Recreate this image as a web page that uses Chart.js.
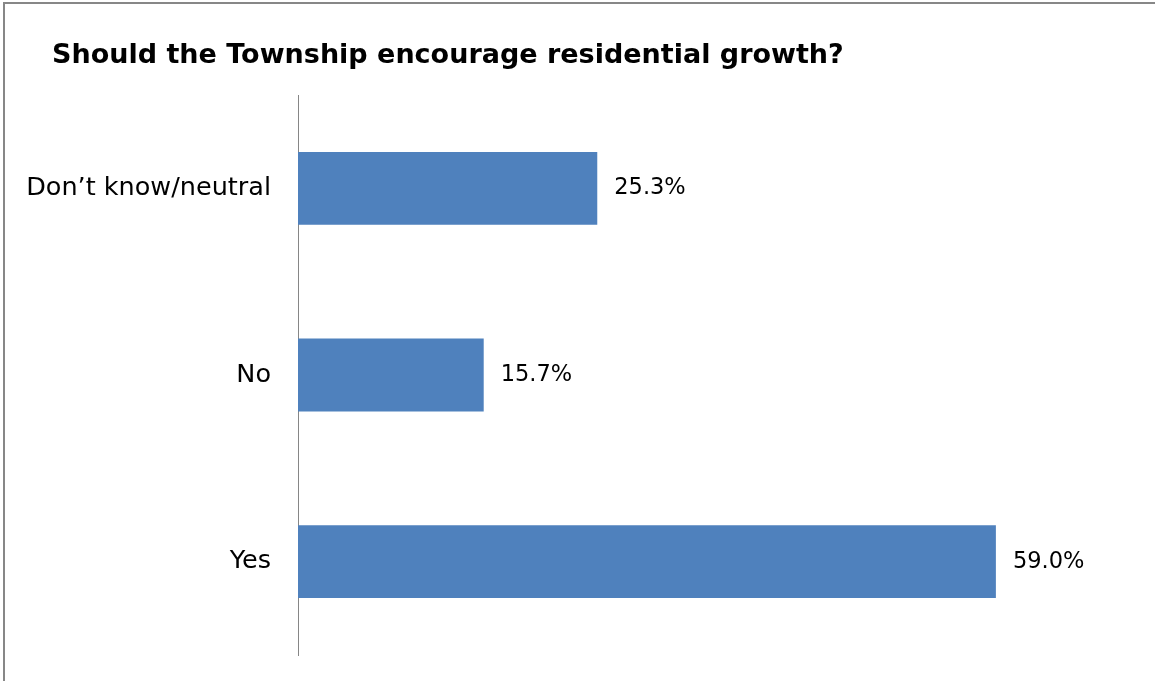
<!DOCTYPE html>
<html>
<head>
<meta charset="utf-8">
<script src="https://cdn.jsdelivr.net/npm/chart.js@4"></script>
<style>
html,body{margin:0;padding:0;background:#fff;}
#wrap{position:relative;width:1155px;height:681px;}
</style>
</head>
<body>
<div id="wrap"><canvas id="c" width="1155" height="681"></canvas></div>
<script>
const title = "Should the Township encourage residential growth?";
const categories = ["Don\u2019t know/neutral", "No", "Yes"];
const values = [25.3, 15.7, 59.0];
const valueLabels = ["25.3%", "15.7%", "59.0%"];

const FONT = "'DejaVu Sans', sans-serif";

const frame = {
  id: 'frame',
  beforeDraw(chart) {
    const ctx = chart.ctx;
    ctx.save();
    ctx.fillStyle = '#fff';
    ctx.fillRect(0, 0, chart.width, chart.height);
    ctx.strokeStyle = '#878787';
    ctx.lineWidth = 2;
    ctx.beginPath();
    ctx.moveTo(4, chart.height);
    ctx.lineTo(4, 3);
    ctx.lineTo(chart.width, 3);
    ctx.stroke();
    ctx.fillStyle = '#000';
    ctx.font = "bold 27px " + FONT;
    ctx.textBaseline = 'alphabetic';
    ctx.textAlign = 'left';
    ctx.fillText(title, 52, 63);
    ctx.restore();
  }
};

const valueLabelPlugin = {
  id: 'valueLabels',
  afterDatasetsDraw(chart) {
    const ctx = chart.ctx;
    const meta = chart.getDatasetMeta(0);
    ctx.save();
    ctx.fillStyle = '#000';
    ctx.font = "22.5px " + FONT;
    ctx.textBaseline = 'middle';
    ctx.textAlign = 'left';
    meta.data.forEach((bar, i) => {
      ctx.fillText(valueLabels[i], bar.x + 17, bar.y);
    });
    ctx.restore();
  }
};

new Chart(document.getElementById('c'), {
  type: 'bar',
  data: {
    labels: categories,
    datasets: [{
      data: values,
      backgroundColor: '#4F81BD',
      borderWidth: 0,
      barPercentage: 0.39,
      categoryPercentage: 1.0
    }]
  },
  options: {
    indexAxis: 'y',
    responsive: false,
    animation: false,
    layout: { padding: { left: 4, right: 29, top: 95, bottom: 26 } },
    plugins: { legend: { display: false }, tooltip: { enabled: false } },
    scales: {
      x: { display: false, min: 0, max: 70 },
      y: {
        grid: { display: false, drawTicks: false },
        border: { display: true, color: '#868686', width: 1 },
        ticks: { color: '#000', padding: 27, font: { family: FONT, size: 25.5 } },
        afterFit(scale) {
          scale.width = 294;
          scale.paddingTop = 0;
          scale.paddingBottom = 0;
        }
      }
    }
  },
  plugins: [frame, valueLabelPlugin]
});
</script>
</body>
</html>
